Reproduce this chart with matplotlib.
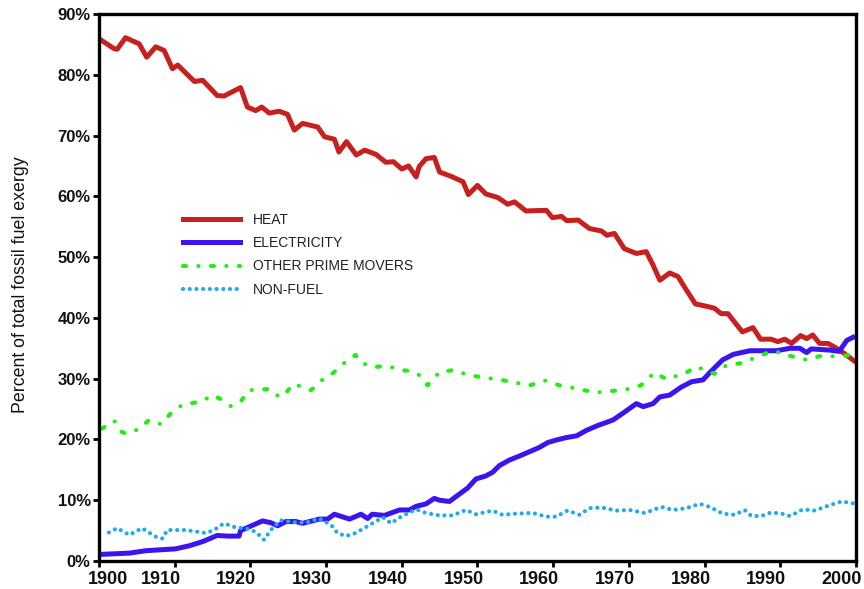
import matplotlib
matplotlib.use("Agg")
import matplotlib.pyplot as plt
from matplotlib.ticker import FuncFormatter
from matplotlib.transforms import ScaledTranslation

# Share of total fossil fuel exergy (%)
heat_years = [1900.4, 1902.0, 1902.4, 1903.5, 1905.3, 1906.3, 1907.5, 1908.6, 1909.7, 1910.4,
              1912.6, 1913.7, 1915.6, 1916.5, 1918.7, 1919.6, 1920.7, 1921.5, 1922.5, 1923.8,
              1924.9, 1925.8, 1926.9, 1928.9, 1929.8, 1931.1, 1931.7, 1932.7, 1934.0, 1935.1,
              1936.6, 1937.9, 1938.9, 1940.0, 1940.9, 1941.9, 1942.3, 1943.2, 1944.3, 1945.0,
              1946.5, 1948.1, 1948.8, 1950.0, 1951.1, 1952.7, 1954.0, 1954.9, 1956.4, 1959.1,
              1959.9, 1961.1, 1961.8, 1963.3, 1964.8, 1966.4, 1967.1, 1968.1, 1969.4, 1971.0,
              1972.3, 1973.2, 1974.1, 1975.4, 1976.5, 1977.6, 1978.8, 1980.3, 1981.3, 1982.2,
              1983.1, 1985.0, 1986.4, 1987.4, 1988.8, 1989.7, 1990.6, 1991.5, 1992.7, 1993.5,
              1994.3, 1995.2, 1996.3, 1997.2, 1998.3, 1999.8]
heat = [85.6, 84.3, 84.2, 86.1, 85.1, 82.9, 84.6, 84.0, 81.0, 81.6,
        78.9, 79.1, 76.6, 76.5, 77.9, 74.7, 74.1, 74.7, 73.7, 74.0,
        73.5, 70.9, 72.0, 71.4, 69.8, 69.4, 67.3, 69.0, 66.8, 67.6,
        66.9, 65.6, 65.7, 64.5, 65.0, 63.2, 64.9, 66.2, 66.4, 64.0,
        63.3, 62.4, 60.3, 61.8, 60.4, 59.8, 58.7, 59.1, 57.6, 57.7,
        56.5, 56.7, 56.0, 56.1, 54.7, 54.3, 53.6, 53.9, 51.4, 50.6,
        50.9, 48.7, 46.2, 47.4, 46.8, 44.6, 42.3, 41.9, 41.6, 40.7,
        40.7, 37.7, 38.4, 36.5, 36.5, 36.1, 36.5, 35.8, 37.1, 36.6,
        37.2, 35.8, 35.8, 35.2, 34.3, 32.9]

elec_years = [1900.4, 1904.0, 1906.2, 1908.8, 1910.1, 1911.9, 1913.7, 1915.6, 1917.0, 1918.5,
              1918.7, 1921.6, 1922.7, 1923.6, 1924.7, 1926.0, 1926.9, 1929.1, 1930.2, 1931.1,
              1933.1, 1934.6, 1935.5, 1936.1, 1937.7, 1939.7, 1941.0, 1941.9, 1943.2, 1944.3,
              1945.0, 1946.3, 1947.6, 1948.7, 1949.8, 1951.1, 1952.0, 1952.9, 1954.2, 1955.6,
              1956.9, 1958.2, 1959.3, 1960.4, 1961.7, 1963.1, 1964.4, 1965.9, 1967.9, 1969.2,
              1971.0, 1971.9, 1973.2, 1974.1, 1975.4, 1976.9, 1978.3, 1979.8, 1980.7, 1982.4,
              1983.8, 1986.0, 1989.5, 1991.3, 1992.6, 1993.5, 1994.1, 1996.6, 1997.8, 1998.8,
              1999.6]
electricity = [1.1, 1.3, 1.7, 1.9, 2.0, 2.5, 3.2, 4.2, 4.1, 4.1,
               5.0, 6.6, 6.3, 5.8, 6.5, 6.5, 6.2, 6.9, 6.9, 7.7,
               6.9, 7.7, 7.0, 7.7, 7.5, 8.4, 8.4, 9.0, 9.4, 10.3,
               10.0, 9.8, 11.0, 12.0, 13.5, 14.0, 14.6, 15.7, 16.6, 17.3,
               18.0, 18.7, 19.5, 19.9, 20.3, 20.6, 21.5, 22.3, 23.2, 24.3,
               25.9, 25.4, 25.9, 27.0, 27.3, 28.6, 29.5, 29.8, 31.0, 33.1,
               34.0, 34.6, 34.6, 35.0, 35.0, 34.3, 34.9, 34.7, 34.5, 36.3,
               36.8]

prime_years = [1900.4, 1902.0, 1902.9, 1903.5, 1905.3, 1906.6, 1908.2, 1909.5, 1911.0, 1912.8,
               1913.5, 1915.0, 1916.5, 1917.4, 1918.7, 1919.8, 1922.5, 1923.8, 1924.5, 1925.6,
               1927.1, 1928.0, 1929.5, 1930.9, 1932.6, 1933.9, 1934.4, 1936.1, 1938.1, 1939.9,
               1941.0, 1942.3, 1943.4, 1945.0, 1946.7, 1948.9, 1950.7, 1952.7, 1954.4, 1956.9,
               1958.9, 1961.1, 1963.1, 1965.6, 1967.9, 1969.9, 1971.6, 1973.4, 1975.0, 1977.6,
               1978.9, 1981.3, 1982.9, 1985.1, 1987.1, 1989.1, 1990.8, 1993.5, 1995.2, 1997.4,
               1999.6]
other_prime_movers = [21.8, 23.1, 21.3, 21.0, 21.7, 23.2, 22.5, 24.3, 25.7, 26.1,
                      26.2, 27.3, 26.4, 25.5, 26.2, 28.1, 28.3, 27.0, 27.3, 29.1,
                      28.6, 28.1, 29.8, 30.9, 32.8, 33.9, 32.8, 31.9, 32.1, 31.4,
                      31.3, 30.6, 28.9, 31.1, 31.4, 30.6, 30.2, 29.9, 29.5, 28.9,
                      29.7, 28.8, 28.4, 27.7, 28.0, 28.3, 28.9, 31.0, 29.9, 31.0,
                      32.0, 30.8, 32.2, 32.6, 33.7, 34.6, 33.9, 33.1, 33.7, 33.7,
                      33.9]

nonfuel_years = [1901.3, 1902.4, 1904.0, 1905.7, 1907.5, 1908.4, 1909.0, 1911.5, 1914.1, 1915.2,
                 1916.5, 1918.1, 1919.4, 1920.7, 1921.8, 1922.7, 1924.0, 1925.6, 1927.3, 1929.1,
                 1930.7, 1931.5, 1932.6, 1933.9, 1935.7, 1937.5, 1938.6, 1939.9, 1941.9, 1943.2,
                 1945.0, 1946.7, 1948.5, 1949.8, 1952.0, 1953.3, 1955.1, 1957.3, 1959.1, 1960.4,
                 1961.9, 1963.5, 1964.8, 1966.4, 1968.4, 1970.1, 1972.1, 1974.3, 1975.8, 1977.6,
                 1979.4, 1980.7, 1982.4, 1984.0, 1985.3, 1986.2, 1987.5, 1988.8, 1990.2, 1991.3,
                 1993.0, 1994.6, 1996.1, 1998.1, 1999.6]
non_fuel = [4.7, 5.4, 4.3, 5.4, 4.0, 3.7, 5.1, 5.1, 4.6, 5.1,
            6.2, 5.5, 5.4, 4.8, 3.5, 5.1, 6.7, 6.4, 6.3, 7.0,
            5.9, 4.6, 4.1, 4.6, 5.9, 7.2, 6.2, 7.3, 8.5, 7.9,
            7.5, 7.5, 8.4, 7.7, 8.3, 7.6, 7.8, 7.9, 7.3, 7.3,
            8.3, 7.6, 8.7, 8.8, 8.3, 8.4, 7.9, 8.9, 8.4, 8.7,
            9.4, 8.9, 7.8, 7.6, 8.4, 7.4, 7.4, 8.0, 7.8, 7.4,
            8.5, 8.3, 9.0, 9.8, 9.5]

x_ticks = list(range(1900, 2001, 10))
y_ticks = list(range(0, 91, 10))

plt.rcParams['font.family'] = ['Liberation Sans', 'DejaVu Sans']

fig = plt.figure(figsize=(8.64, 5.89), dpi=100)
ax = fig.add_axes([0.1146, 0.0475, 0.876, 0.9287])

ax.plot(heat_years, heat, color='#c8201e', lw=3.6, solid_joinstyle='round',
        label='HEAT')
ax.plot(elec_years, electricity, color='#3c14f0', lw=3.6, solid_joinstyle='round',
        label='ELECTRICITY')
ax.plot(prime_years, other_prime_movers, color='#22ee11', lw=3.0,
        dashes=(0.7, 3.0, 0.01, 3.0), dash_capstyle='round',
        label='OTHER PRIME MOVERS')
ax.plot(nonfuel_years, non_fuel, color='#1eaaf0', lw=3.0,
        dashes=(0.01, 1.6), dash_capstyle='round', label='NON-FUEL')

ax.set_xlim(1900, 2000)
ax.set_ylim(0, 90)
ax.set_xticks(x_ticks)
ax.set_yticks(y_ticks)
ax.yaxis.set_major_formatter(FuncFormatter(lambda v, p: '%d%%' % v))
ax.tick_params(axis='both', direction='out', length=4, width=2, color='black')
ax.tick_params(axis='x', pad=3, labelsize=13)
ax.tick_params(axis='y', pad=2, labelsize=12)
for lab in ax.get_xticklabels() + ax.get_yticklabels():
    lab.set_fontweight('bold')
    lab.set_color('#111111')

# year labels sit a little left of their ticks, as in the original
for i, lab in enumerate(ax.get_xticklabels()):
    dx = 9 if i == 0 else -14
    lab.set_transform(lab.get_transform() + ScaledTranslation(dx / 100, 0, fig.dpi_scale_trans))

for sp in ax.spines.values():
    sp.set_linewidth(2.4)
    sp.set_color('black')

ax.set_ylabel('Percent of total fossil fuel exergy', fontsize=12.8, color='#111111')
ax.yaxis.set_label_coords(-0.093, 0.505)

leg = ax.legend(loc='upper left', bbox_to_anchor=(0.111, 0.637), frameon=False,
                fontsize=10, handlelength=4.1, handletextpad=0.95, labelspacing=0.68,
                borderpad=0, borderaxespad=0)
for t in leg.get_texts():
    t.set_color('#222222')

fig.savefig('out.png', dpi=100)
